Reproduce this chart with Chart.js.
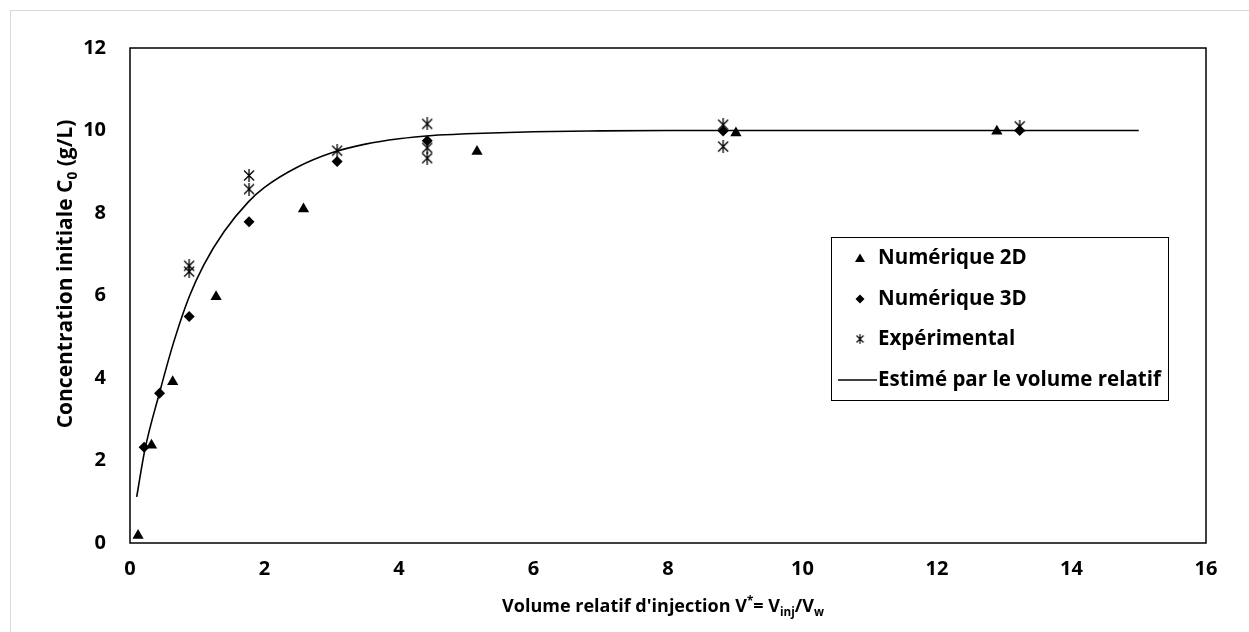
<!DOCTYPE html>
<html>
<head>
<meta charset="utf-8">
<script src="https://cdn.jsdelivr.net/npm/chart.js@4"></script>
<style>
  html, body { margin: 0; padding: 0; background: #fff; }
  #wrap { width: 1249px; height: 632px; }
</style>
</head>
<body>
<div id="wrap"><canvas id="scatterChart" width="1249" height="632"></canvas></div>
<script>
// V* values and C0 values per series
var num2dX = [0.12, 0.32, 0.635, 1.28, 2.58, 5.16, 9.01, 12.89];
var num2dY = [0.18, 2.37, 3.91, 5.97, 8.10, 9.49, 9.94, 9.98];

var num3dX = [0.21, 0.44, 0.88, 1.77, 3.08, 4.42, 8.82, 13.23];
var num3dY = [2.32, 3.63, 5.49, 7.79, 9.25, 9.75, 9.99, 10.0];

var expX = [0.88, 0.88, 1.77, 1.77, 3.08, 4.42, 4.42, 4.42, 8.82, 8.82, 13.23];
var expY = [6.72, 6.58, 8.91, 8.58, 9.51, 10.16, 9.58, 9.33, 10.14, 9.61, 10.10];

// estimated curve (relative volume)
var estX = [0.1, 0.22, 0.44, 0.65, 0.88, 1.1, 1.4, 1.76, 2.0, 2.5, 3.0, 3.5, 4.0, 4.5, 5.0, 6.0, 7.0, 8.0, 10.0, 12.0, 15.0];
var estY = [1.12, 2.25, 3.65, 4.87, 5.97, 6.75, 7.55, 8.27, 8.62, 9.12, 9.46, 9.67, 9.8, 9.88, 9.92, 9.97, 9.99, 10.0, 10.0, 10.0, 10.0];

var xTicks = [0, 2, 4, 6, 8, 10, 12, 14, 16];
var yTicks = [0, 2, 4, 6, 8, 10, 12];

var FONT = '"Open Sans", "Noto Sans", sans-serif';

function pairs(xs, ys) {
  return xs.map(function (x, i) { return { x: x, y: ys[i] }; });
}

// asterisk marker: X with a vertical bar
function makeStar(w, h, lw) {
  var c = document.createElement('canvas');
  c.width = w; c.height = h;
  var g = c.getContext('2d');
  g.strokeStyle = '#000';
  g.lineWidth = lw;
  g.beginPath();
  g.moveTo(1, 1.5); g.lineTo(w - 1, h - 1.5);
  g.moveTo(w - 1, 1.5); g.lineTo(1, h - 1.5);
  g.moveTo(w / 2, 0); g.lineTo(w / 2, h);
  g.stroke();
  return c;
}
var starImg = makeStar(12, 13, 1.3);
var starSmall = makeStar(9, 10, 1.1);

// draws text with sub/superscript runs, centred on x
function drawRuns(ctx, runs, x, y, size) {
  var total = 0;
  runs.forEach(function (r) {
    var s = r.sub || r.sup ? size * 0.65 : size;
    ctx.font = 'bold ' + s + 'px ' + FONT;
    r.w = ctx.measureText(r.t).width;
    r.s = s;
    total += r.w;
  });
  var cx = x - total / 2;
  ctx.textAlign = 'left';
  ctx.textBaseline = 'alphabetic';
  runs.forEach(function (r) {
    ctx.font = 'bold ' + r.s + 'px ' + FONT;
    var dy = r.sub ? size * 0.22 : (r.sup ? -size * 0.38 : 0);
    ctx.fillText(r.t, cx, y + dy);
    cx += r.w;
  });
}

var decorPlugin = {
  id: 'decor',
  beforeDraw: function (chart) {
    var ctx = chart.ctx;
    ctx.save();
    ctx.strokeStyle = '#d9d9d9';
    ctx.lineWidth = 1;
    ctx.strokeRect(10.5, 10.5, 1260, 640);
    ctx.restore();
  },
  afterDraw: function (chart) {
    var ctx = chart.ctx;
    var a = chart.chartArea;
    ctx.save();
    // plot frame
    ctx.strokeStyle = '#000';
    ctx.lineWidth = 1.5;
    ctx.strokeRect(a.left, a.top, a.right - a.left, a.bottom - a.top);

    ctx.fillStyle = '#000';
    // x axis title
    drawRuns(ctx, [
      { t: "Volume relatif d'injection V" }, { t: '*', sup: true },
      { t: '= V' }, { t: 'inj', sub: true }, { t: '/V' }, { t: 'w', sub: true }
    ], 663, 612, 18);
    // y axis title
    ctx.save();
    ctx.translate(72, 274);
    ctx.rotate(-Math.PI / 2);
    drawRuns(ctx, [
      { t: 'Concentration initiale C' }, { t: '0', sub: true }, { t: ' (g/L)' }
    ], 0, 0, 21);
    ctx.restore();

    // legend box
    var lx = 831.5, ly = 237.5, lw = 337, lh = 163;
    ctx.fillStyle = '#fff';
    ctx.fillRect(lx, ly, lw, lh);
    ctx.strokeStyle = '#000';
    ctx.lineWidth = 1;
    ctx.strokeRect(lx, ly, lw, lh);
    var rows = [258, 299, 339, 380];
    var mx = 860, tx = 878;
    ctx.fillStyle = '#000';
    // triangle
    ctx.beginPath();
    ctx.moveTo(mx, rows[0] - 4.5); ctx.lineTo(mx + 5, rows[0] + 4); ctx.lineTo(mx - 5, rows[0] + 4);
    ctx.closePath(); ctx.fill();
    // diamond
    ctx.beginPath();
    ctx.moveTo(mx, rows[1] - 4.5); ctx.lineTo(mx + 4.5, rows[1]); ctx.lineTo(mx, rows[1] + 4.5); ctx.lineTo(mx - 4.5, rows[1]);
    ctx.closePath(); ctx.fill();
    // asterisk
    ctx.drawImage(starSmall, mx - 4.5, rows[2] - 5);
    // line
    ctx.lineWidth = 1.5;
    ctx.beginPath();
    ctx.moveTo(838, rows[3]); ctx.lineTo(877, rows[3]);
    ctx.stroke();

    ctx.font = 'bold 20.5px ' + FONT;
    ctx.textAlign = 'left';
    ctx.textBaseline = 'middle';
    chart.data.datasets.forEach(function (ds, i) {
      ctx.fillText(ds.label, tx, rows[i]);
    });
    ctx.restore();
  }
};

var ctx = document.getElementById('scatterChart').getContext('2d');
var chart = new Chart(ctx, {
  type: 'scatter',
  data: {
    datasets: [{
      label: 'Numérique 2D',
      data: pairs(num2dX, num2dY),
      pointStyle: 'triangle',
      pointRadius: 6.5,
      backgroundColor: '#000',
      borderColor: '#000',
      borderWidth: 0
    }, {
      label: 'Numérique 3D',
      data: pairs(num3dX, num3dY),
      pointStyle: 'rectRot',
      pointRadius: 5.5,
      backgroundColor: '#000',
      borderColor: '#000',
      borderWidth: 0
    }, {
      label: 'Expérimental',
      data: pairs(expX, expY),
      pointStyle: starImg,
      pointRadius: 6
    }, {
      label: 'Estimé par le volume relatif',
      type: 'line',
      data: pairs(estX, estY),
      showLine: true,
      pointRadius: 0,
      borderColor: '#000',
      borderWidth: 1.6,
      cubicInterpolationMode: 'monotone',
      fill: false
    }]
  },
  plugins: [decorPlugin],
  options: {
    responsive: false,
    animation: false,
    layout: { padding: { left: 10, top: 48, right: 43, bottom: 10 } },
    plugins: {
      legend: { display: false },
      tooltip: { enabled: false }
    },
    scales: {
      x: {
        type: 'linear',
        min: 0, max: 16,
        afterBuildTicks: function (s) { s.ticks = xTicks.map(function (v) { return { value: v }; }); },
        afterFit: function (s) { s.height = 632 - 543 - 10; },
        grid: { display: false, drawTicks: false },
        border: { display: false },
        ticks: { color: '#000', padding: 14, font: { family: FONT, size: 20, weight: 'bold' } }
      },
      y: {
        type: 'linear',
        min: 0, max: 12,
        afterBuildTicks: function (s) { s.ticks = yTicks.map(function (v) { return { value: v }; }); },
        afterFit: function (s) { s.width = 130 - 10; },
        grid: { display: false, drawTicks: false },
        border: { display: false },
        ticks: { color: '#000', padding: 24, font: { family: FONT, size: 20, weight: 'bold' } }
      }
    }
  }
});
</script>
</body>
</html>
